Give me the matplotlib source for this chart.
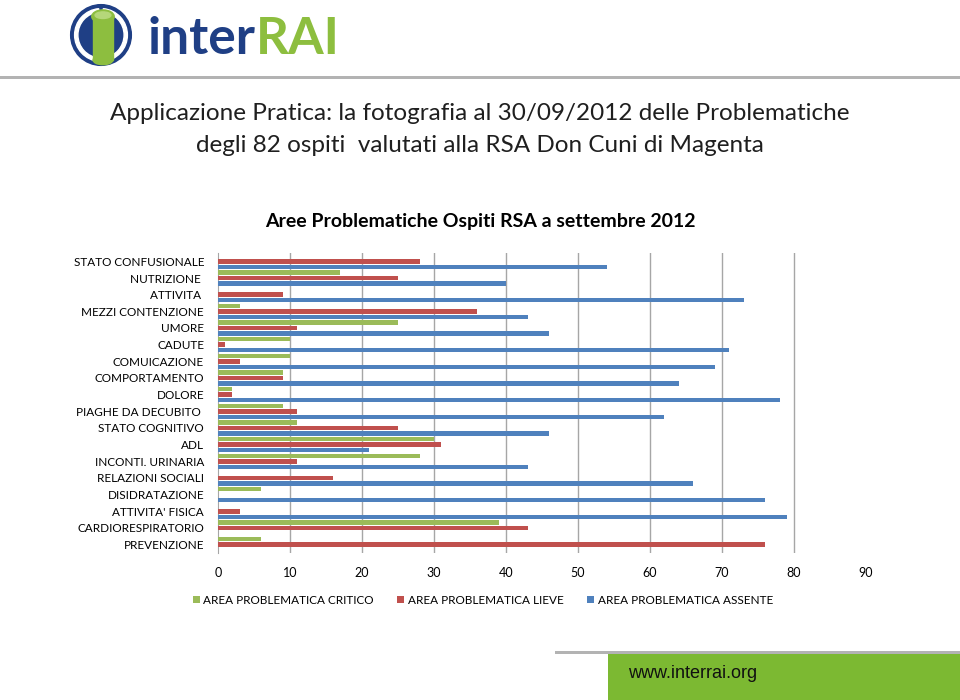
import matplotlib
matplotlib.use('Agg')
import matplotlib.pyplot as plt
from matplotlib.patches import Rectangle, Circle, Ellipse, Wedge
import numpy as np

plt.rcParams['font.family'] = ['Lato', 'DejaVu Sans']

categories = ['STATO CONFUSIONALE', 'NUTRIZIONE ', 'ATTIVITA ', 'MEZZI CONTENZIONE', 'UMORE',
              'CADUTE', 'COMUICAZIONE', 'COMPORTAMENTO', 'DOLORE', 'PIAGHE DA DECUBITO ',
              'STATO COGNITIVO', 'ADL', 'INCONTI. URINARIA', 'RELAZIONI SOCIALI', 'DISIDRATAZIONE',
              "ATTIVITA' FISICA", 'CARDIORESPIRATORIO', 'PREVENZIONE']
critico = [0, 17, 0, 3, 25, 10, 10, 9, 2, 9, 11, 30, 28, 0, 6, 0, 39, 6]
lieve = [28, 25, 9, 36, 11, 1, 3, 9, 2, 11, 25, 31, 11, 16, 0, 3, 43, 76]
assente = [54, 40, 73, 43, 46, 71, 69, 64, 78, 62, 46, 21, 43, 66, 76, 79, 0, 0]
series_names = ['AREA PROBLEMATICA CRITICO', 'AREA PROBLEMATICA LIEVE', 'AREA PROBLEMATICA ASSENTE']
colors = ['#9BBB59', '#C0504D', '#4F81BD']
x_ticks = list(range(0, 100, 10))

fig = plt.figure(figsize=(9.6, 7), dpi=100)

# slide decorations
W, H = 960.0, 700.0
fig.add_artist(Rectangle((0, 1 - 79 / H), 1, 3 / H, transform=fig.transFigure, color='#b3b3b3', lw=0))
fig.add_artist(Rectangle((555 / W, 1 - 654 / H), 405 / W, 3 / H, transform=fig.transFigure, color='#b3b3b3', lw=0))
fig.add_artist(Rectangle((608 / W, 0), 352 / W, 46 / H, transform=fig.transFigure, color='#7CB932', lw=0))
fig.text(628 / W, 1 - 673 / H, 'www.interrai.org', fontsize=13, family='Liberation Sans',
         color='#111111', va='center', ha='left')

# logo
logo = fig.add_axes([68 / W, 1 - 68 / H, 66 / W, 66 / H])
logo.set_xlim(0, 1)
logo.set_ylim(0, 1)
logo.set_aspect('equal')
logo.axis('off')
logo.add_patch(Circle((0.5, 0.5), 0.46, color='#1F3F85'))
logo.add_patch(Wedge((0.5, 0.5), 0.40, 95, 265, width=0.05, color='white'))
logo.add_patch(Wedge((0.5, 0.5), 0.40, -85, 85, width=0.05, color='white'))
logo.add_patch(Rectangle((0.38, 0.12), 0.3, 0.66, color='#8DBE3F'))
logo.add_patch(Ellipse((0.53, 0.12), 0.3, 0.14, color='#8DBE3F'))
logo.add_patch(Ellipse((0.53, 0.78), 0.34, 0.2, color='#8DBE3F'))
logo.add_patch(Ellipse((0.53, 0.8), 0.24, 0.1, color='#b5d77a'))

t_inter = fig.text(147 / W, 1 - 40 / H, 'inter', fontsize=37, fontweight='bold', color='#1F3F85',
                   va='center', ha='left')
fig.canvas.draw()
bb = t_inter.get_window_extent()
fig.text(bb.x1 / W + 1 / W, 1 - 40 / H, 'RAI', fontsize=37, fontweight='bold', color='#8DBE3F',
         va='center', ha='left')

fig.text(0.5, 1 - 113 / H, 'Applicazione Pratica: la fotografia al 30/09/2012 delle Problematiche',
         fontsize=17.5, ha='center', va='center', color='#1f1f1f')
fig.text(0.5, 1 - 146 / H, 'degli 82 ospiti  valutati alla RSA Don Cuni di Magenta',
         fontsize=17.5, ha='center', va='center', color='#1f1f1f')
fig.text(0.5, 1 - 221 / H, 'Aree Problematiche Ospiti RSA a settembre 2012',
         fontsize=14, fontweight='bold', ha='center', va='center')

# chart
ax = fig.add_axes([218 / W, 1 - 553 / H, 648 / W, 300 / H])
n = len(categories)
pos = np.arange(n)
bar_h = 0.27
for i, (vals, col, name) in enumerate(zip([critico, lieve, assente], colors, series_names)):
    ax.barh(pos + (i - 1) * 0.33, vals, height=bar_h, color=col, label=name, zorder=3)

ax.set_ylim(n - 0.5, -0.5)
ax.set_xlim(0, 90)
ax.set_yticks(pos)
ax.set_yticklabels(categories, fontsize=8.5)
ax.set_xticks(x_ticks)
ax.set_xticklabels([str(t) for t in x_ticks], fontsize=9)
ax.tick_params(axis='both', length=0)
ax.tick_params(axis='x', pad=10)
ax.tick_params(axis='y', pad=10)
for t in x_ticks[1:-1]:
    ax.axvline(t, color='#a6a6a6', lw=1, zorder=1)
for s in ['top', 'right', 'bottom']:
    ax.spines[s].set_visible(False)
ax.spines['left'].set_color('#a6a6a6')

leg = fig.legend(loc='center', bbox_to_anchor=(0.503, 1 - 600 / H), ncol=3, frameon=False,
                 fontsize=8.5, handlelength=0.6, handleheight=0.6, handletextpad=0.3,
                 columnspacing=2.0)

fig.savefig('out.png', dpi=100)
